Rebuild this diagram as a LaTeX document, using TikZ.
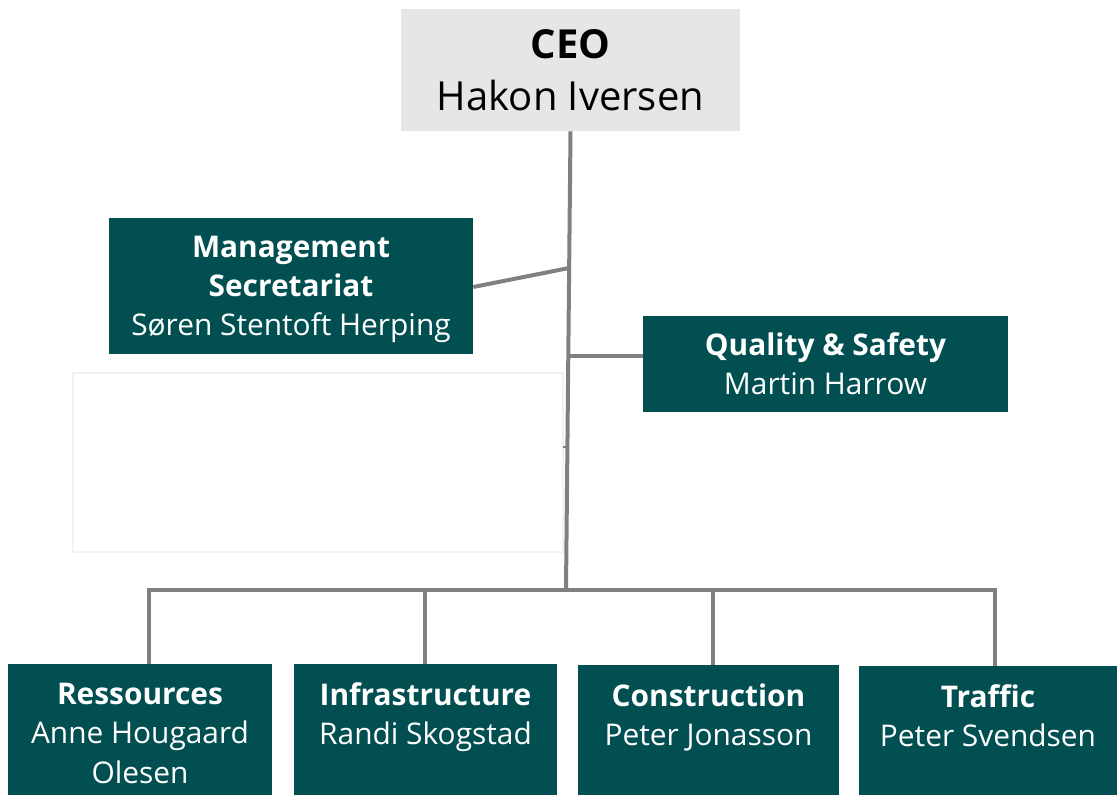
\documentclass[tikz,border=0pt]{standalone}
\usepackage{fontspec}
\setmainfont{Open Sans}
\definecolor{teal}{HTML}{024F51}
\definecolor{ceogray}{HTML}{E6E6E6}
\definecolor{linegray}{HTML}{808080}
\begin{document}
\begin{tikzpicture}[x=0.75pt,y=-0.75pt,
  box/.style={fill=teal,text=white,inner sep=0pt,align=center,font=\fontsize{22.4}{29.5}\selectfont},
  low/.style={box,anchor=north,minimum height=103.5pt},
  conn/.style={draw=linegray,line width=3pt},
]
\useasboundingbox (0,0) rectangle (1118,795);
% faint empty frame
\node[draw=black!5,line width=0.8pt,minimum width=367.5pt,minimum height=134.25pt,inner sep=0pt] (blank) at (318,462.5) {};
% boxes
\node[fill=ceogray,inner sep=0pt,align=center,minimum width=254.25pt,minimum height=91.5pt,font=\fontsize{30}{39}\selectfont] (ceo) at (570.5,70) {\textbf{CEO}\\\raisebox{0pt}[\height][0pt]{Hakon Iversen}};
\node[box,minimum width=273pt,minimum height=102pt] (mgmt) at (291,286) {\textbf{Management}\\\textbf{Secretariat}\\\raisebox{0pt}[\height][0pt]{Søren Stentoft Herping}};
\node[box,minimum width=273.75pt,minimum height=72pt] (qs) at (825.5,364) {\textbf{Quality \& Safety}\\Martin Harrow};
\node[low,minimum width=198pt] (res) at (140,664) {\textbf{Ressources}\\Anne Hougaard\\Olesen};
\node[low,minimum width=197.25pt] (inf) at (425.5,664) {\textbf{Infrastructure}\\Randi Skogstad\\\mbox{}};
\node[low,minimum width=195.75pt] (con) at (708.5,665) {\textbf{Construction}\\Peter Jonasson\\\mbox{}};
\node[low,minimum width=193.5pt] (trf) at (988,666) {\textbf{Traffic}\\Peter Svendsen\\\mbox{}};
% connector coordinates
\coordinate (bus) at (566,590);
\coordinate (tm) at (569,268);
\coordinate (tq) at (569,356);
\coordinate (ts) at (566,447);
\coordinate (d1) at (149,590);
\coordinate (d2) at (425,590);
\coordinate (d3) at (713,590);
\coordinate (d4) at (995,590);
% connectors
\draw[conn] (ceo.south) -- (bus);
\draw[conn] (mgmt.east |- 0,287) -- (tm);
\draw[conn] (tq) -- (qs.west |- tq);
\draw[draw=linegray,line width=1.5pt] (ts) -- ++(-3,0);
\draw[conn] (d1 |- res.north) -- (d1) -- (d4) -- (d4 |- trf.north);
\draw[conn] (d2) -- (d2 |- inf.north);
\draw[conn] (d3) -- (d3 |- con.north);
\end{tikzpicture}
\end{document}
